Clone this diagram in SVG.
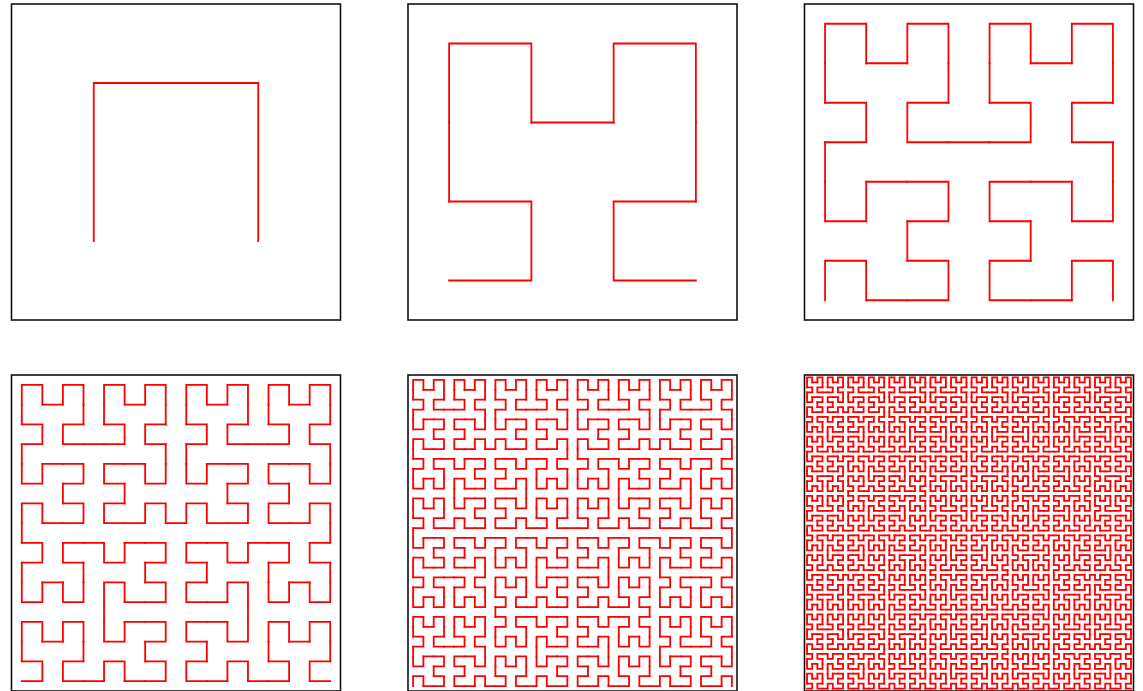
<svg xmlns="http://www.w3.org/2000/svg" xmlns:xlink="http://www.w3.org/1999/xlink" width="1143" height="691" viewBox="0 0 1143 691">
<style>
.c{fill:none;stroke:#ff0000;stroke-width:1.8;stroke-linecap:square;stroke-linejoin:miter;vector-effect:non-scaling-stroke}
.box{fill:#fff;stroke:#111;stroke-width:1.6}
</style>
<defs>
<g id="h1"><path class="c" d="M0.25 0.25V0.75H0.75V0.25"/></g>
<g id="h2">
<use href="#h1" transform="matrix(0,0.5,0.5,0,0,0)"/>
<use href="#h1" transform="matrix(0.5,0,0,0.5,0,0.5)"/>
<use href="#h1" transform="matrix(0.5,0,0,0.5,0.5,0.5)"/>
<use href="#h1" transform="matrix(0,-0.5,-0.5,0,1,0.5)"/>
<path class="c" d="M0.125 0.375V0.625M0.375 0.625H0.625M0.875 0.625V0.375"/>
</g>
<g id="h3">
<use href="#h2" transform="matrix(0,0.5,0.5,0,0,0)"/>
<use href="#h2" transform="matrix(0.5,0,0,0.5,0,0.5)"/>
<use href="#h2" transform="matrix(0.5,0,0,0.5,0.5,0.5)"/>
<use href="#h2" transform="matrix(0,-0.5,-0.5,0,1,0.5)"/>
<path class="c" d="M0.0625 0.4375V0.5625M0.4375 0.5625H0.5625M0.9375 0.5625V0.4375"/>
</g>
<g id="h4">
<use href="#h3" transform="matrix(0,0.5,0.5,0,0,0)"/>
<use href="#h3" transform="matrix(0.5,0,0,0.5,0,0.5)"/>
<use href="#h3" transform="matrix(0.5,0,0,0.5,0.5,0.5)"/>
<use href="#h3" transform="matrix(0,-0.5,-0.5,0,1,0.5)"/>
<path class="c" d="M0.03125 0.46875V0.53125M0.46875 0.53125H0.53125M0.96875 0.53125V0.46875"/>
</g>
<g id="h5">
<use href="#h4" transform="matrix(0,0.5,0.5,0,0,0)"/>
<use href="#h4" transform="matrix(0.5,0,0,0.5,0,0.5)"/>
<use href="#h4" transform="matrix(0.5,0,0,0.5,0.5,0.5)"/>
<use href="#h4" transform="matrix(0,-0.5,-0.5,0,1,0.5)"/>
<path class="c" d="M0.015625 0.484375V0.515625M0.484375 0.515625H0.515625M0.984375 0.515625V0.484375"/>
</g>
<g id="h6">
<use href="#h5" transform="matrix(0,0.5,0.5,0,0,0)"/>
<use href="#h5" transform="matrix(0.5,0,0,0.5,0,0.5)"/>
<use href="#h5" transform="matrix(0.5,0,0,0.5,0.5,0.5)"/>
<use href="#h5" transform="matrix(0,-0.5,-0.5,0,1,0.5)"/>
<path class="c" d="M0.0078125 0.4921875V0.5078125M0.4921875 0.5078125H0.5078125M0.9921875 0.5078125V0.4921875"/>
</g>
</defs>
<rect width="1143" height="691" fill="#fff"/>
<g id="panel1"><rect class="box" x="11.5" y="4" width="329" height="316"/><use href="#h1" transform="matrix(329,0,0,-316,11.5,320)"/></g>
<g id="panel2"><rect class="box" x="408" y="4" width="329" height="316"/><use href="#h2" transform="matrix(329,0,0,-316,408,320)"/></g>
<g id="panel3"><rect class="box" x="804.5" y="4" width="329" height="316"/><use href="#h3" transform="matrix(329,0,0,-316,804.5,320)"/></g>
<g id="panel4"><rect class="box" x="11.5" y="375" width="329" height="316"/><use href="#h4" transform="matrix(329,0,0,-316,11.5,691)"/></g>
<g id="panel5"><rect class="box" x="408" y="375" width="329" height="316"/><use href="#h5" transform="matrix(329,0,0,-316,408,691)"/></g>
<g id="panel6"><rect class="box" x="804.5" y="375" width="329" height="316"/><use href="#h6" transform="matrix(329,0,0,-316,804.5,691)"/></g>
</svg>
